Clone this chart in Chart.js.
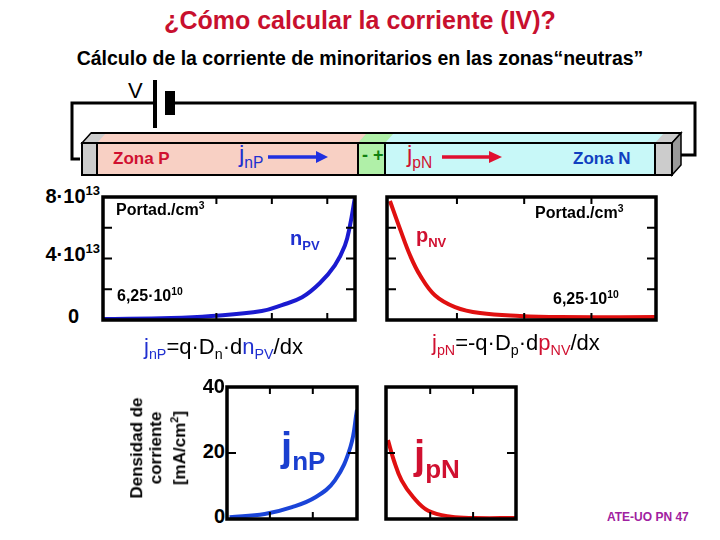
<!DOCTYPE html><html><head><meta charset="utf-8">
<script src="https://cdn.jsdelivr.net/npm/chart.js@4"></script>
<style>
body{margin:0;width:720px;height:540px;position:relative;background:#fff;font-family:Arial,"Liberation Sans",sans-serif;overflow:hidden}
.a{position:absolute;white-space:nowrap}
.b{font-weight:bold}
.cw{position:absolute}
sub,sup{font-size:65%}
</style></head><body>
<script>
// data (x in 0..10 position units)
const nX=[0,2.7,4.3,6.3,7.1,7.9,8.6,9.2,9.6,9.8,10.0];
const nY=[0.06,0.13,0.26,0.58,0.97,1.48,2.39,3.55,4.84,6.13,8.0]; // x1e13 portad./cm3
const pX=[0.11,0.48,0.86,1.23,1.78,2.53,3.46,4.94,6.43,10];
const pY=[7.74,5.94,4.19,2.9,1.61,0.84,0.45,0.26,0.19,0.19];
const jnX=[0.2,2.9,5.0,6.8,8.3,9.5,10];
const jnY=[0.5,1.5,3.6,6.6,11.7,21.9,33.1];   // mA/cm2
const jpX=[0.15,0.6,1.2,2.1,3.25,5.0,6.8,10];
const jpY=[23.9,17.8,11.7,6.6,2.5,0.7,0.3,0.3];
const concTicks=[2,4,6];
const curTicks=[20];
</script>
<div class="a b" style="left:0;width:720px;top:6px;text-align:center;font-size:25px;color:#c8102e">¿Cómo calcular la corriente (IV)?</div>
<div class="a b" style="left:0;width:720px;top:47px;text-align:center;font-size:19.5px;color:#000">Cálculo de la corriente de minoritarios en las zonas“neutras”</div>
<div class="a" style="left:128px;top:78px;font-size:22px">V</div>
<svg class="a" style="left:0;top:0" width="720" height="200">
<polyline points="80,159 72,159 72,103 155,103" fill="none" stroke="#000" stroke-width="3"/>
<polyline points="170,103 695,103 695,155 672,155" fill="none" stroke="#000" stroke-width="3"/>
<rect x="153" y="80" width="4" height="48" fill="#000"/>
<rect x="165" y="91" width="10" height="24" fill="#000"/>
<polygon points="82,143 91,133 681,133 672,143" fill="#ccc" stroke="#000" stroke-width="1.5"/>
<polygon points="97,143 106,133 367,133 358,143" fill="#f8d0c4"/>
<polygon points="358,143 367,133 394,133 385,143" fill="#b0f0a8"/>
<polygon points="385,143 394,133 664,133 655,143" fill="#c8f8f8"/>
<line x1="91" y1="133" x2="681" y2="133" stroke="#000" stroke-width="2"/>
<polygon points="672,143 681,133 681,165 672,175" fill="#999" stroke="#000" stroke-width="1.5"/>
<rect x="82" y="143" width="15" height="32" fill="#ccc" stroke="#000" stroke-width="2"/>
<rect x="97" y="143" width="261" height="32" fill="#f8d0c4" stroke="#000" stroke-width="2"/>
<rect x="358" y="143" width="27" height="32" fill="#b0f0a8" stroke="#000" stroke-width="2"/>
<rect x="385" y="143" width="270" height="32" fill="#c8f8f8" stroke="#000" stroke-width="2"/>
<rect x="655" y="143" width="17" height="32" fill="#ccc" stroke="#000" stroke-width="2"/>
<line x1="268" y1="157" x2="318" y2="157" stroke="#2030e0" stroke-width="3.5"/><polygon points="316,151 328,157 316,163" fill="#2030e0"/>
<line x1="442" y1="157" x2="490" y2="157" stroke="#e01030" stroke-width="3.5"/><polygon points="489,151 502,157 489,163" fill="#e01030"/>
</svg>
<div class="a b" style="left:113px;top:149px;font-size:17px;color:#d01030">Zona P</div>
<div class="a" style="left:239px;top:140px;font-size:24px;color:#2030d0">j<sub>nP</sub></div>
<div class="a b" style="left:362px;top:145px;font-size:18px;color:#108010">- +</div>
<div class="a" style="left:407px;top:140px;font-size:24px;color:#d01030">j<sub>pN</sub></div>
<div class="a b" style="left:573px;top:149px;font-size:17px;color:#1040c0">Zona N</div>
<div class="a b" style="left:0;width:100px;top:183px;text-align:right;font-size:20px">8·10<sup>13</sup></div>
<div class="a b" style="left:0;width:100px;top:241px;text-align:right;font-size:20px">4·10<sup>13</sup></div>
<div class="a b" style="left:68px;top:305px;font-size:20px">0</div>
<div class="cw" style="left:101px;top:195px;width:256px;height:127px"><canvas id="c1"></canvas></div>
<div class="cw" style="left:385px;top:195px;width:273px;height:127px"><canvas id="c2"></canvas></div>
<div class="cw" style="left:225px;top:385px;width:134px;height:136px"><canvas id="c3"></canvas></div>
<div class="cw" style="left:384px;top:385px;width:134px;height:136px"><canvas id="c4"></canvas></div>
<div class="a b" style="left:116px;top:200px;font-size:16px">Portad./cm<sup>3</sup></div>
<div class="a b" style="left:290px;top:227px;font-size:20px;color:#2030d0">n<sub>PV</sub></div>
<div class="a b" style="left:117px;top:286px;font-size:16px">6,25·10<sup>10</sup></div>
<div class="a b" style="left:535px;top:203px;font-size:16px">Portad./cm<sup>3</sup></div>
<div class="a b" style="left:416px;top:224px;font-size:20px;color:#d01030">p<sub>NV</sub></div>
<div class="a b" style="left:553px;top:289px;font-size:16px">6,25·10<sup>10</sup></div>
<div class="a" style="left:144px;top:334px;font-size:22px"><span style="color:#2030d0">j<sub>nP</sub></span>=q·D<sub>n</sub>·d<span style="color:#2030d0">n<sub>PV</sub></span>/dx</div>
<div class="a" style="left:432px;top:330px;font-size:22px"><span style="color:#d01030">j<sub>pN</sub></span>=-q·D<sub>p</sub>·d<span style="color:#d01030">p<sub>NV</sub></span>/dx</div>
<div class="a b" style="left:190px;top:375px;width:35px;text-align:right;font-size:20px">40</div>
<div class="a b" style="left:190px;top:440px;width:35px;text-align:right;font-size:20px">20</div>
<div class="a b" style="left:190px;top:505px;width:35px;text-align:right;font-size:20px">0</div>
<div class="a b" style="left:158px;top:448px;transform:translate(-50%,-50%) rotate(-90deg);font-size:17px;text-align:center;line-height:19px">Densidad de<br>corriente<br>[mA/cm<sup>2</sup>]</div>
<div class="a b" style="left:281px;top:425px;font-size:40px;color:#1a3fd0">j<sub>nP</sub></div>
<div class="a b" style="left:414px;top:433px;font-size:40px;color:#d01030">j<sub>pN</sub></div>
<div class="a b" style="left:607px;top:510px;font-size:12px;color:#a020a0">ATE-UO PN 47</div>
<script>
const inTicks={id:'inTicks',afterDraw(ch,a,o){const c=ch.ctx,ar=ch.chartArea,xs=ch.scales.x,ys=ch.scales.y;c.save();c.strokeStyle='#000';c.lineWidth=2;
(o.xt||[]).forEach(v=>{const p=xs.getPixelForValue(v);c.beginPath();c.moveTo(p,ar.top);c.lineTo(p,ar.top+7);c.moveTo(p,ar.bottom);c.lineTo(p,ar.bottom-7);c.stroke();});
(o.yt||[]).forEach(v=>{const p=ys.getPixelForValue(v);c.beginPath();c.moveTo(ar.left,p);c.lineTo(ar.left+9,p);c.moveTo(ar.right,p);c.lineTo(ar.right-9,p);c.stroke();});
c.lineWidth=3.5;c.strokeRect(ar.left,ar.top,ar.right-ar.left,ar.bottom-ar.top);c.restore();}};
function mk(id,xs,ys,col,ymax,xt,yt){
 new Chart(document.getElementById(id),{type:'line',data:{datasets:[{data:xs.map((x,i)=>({x,y:ys[i]})),borderColor:col,borderWidth:4,pointRadius:0,tension:0.4,fill:false}]},
 options:{responsive:true,maintainAspectRatio:false,animation:false,layout:{padding:2},
 plugins:{legend:{display:false},tooltip:{enabled:false},inTicks:{xt,yt}},
 scales:{x:{type:'linear',min:0,max:10,display:false},y:{min:0,max:ymax,display:false}}},plugins:[inTicks]});
}
mk('c1',nX,nY,'#1a1ad0',8,[4.5,6.7,8.9],concTicks);
mk('c2',pX,pY,'#e01010',8,[2.6,5.1,7.6],concTicks);
mk('c3',jnX,jnY,'#1a44d8',40,[3.3,6.6],curTicks);
mk('c4',jpX,jpY,'#e01010',40,[3.4,6.7],curTicks);
</script>
</body></html>
